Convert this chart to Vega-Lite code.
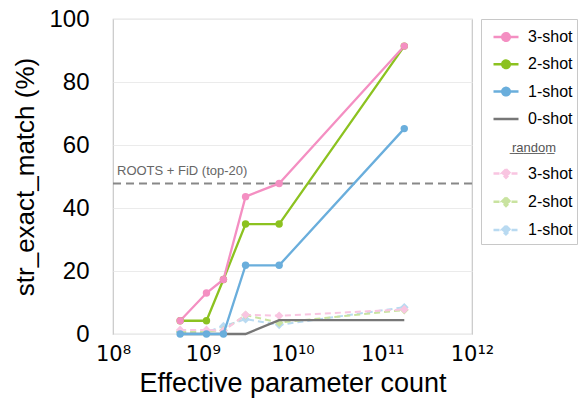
{
  "$schema": "https://vega.github.io/schema/vega-lite/v6.json",
  "autosize": {"type": "none"},
  "padding": {"left": 113, "top": 19, "right": 109, "bottom": 75},
  "width": 359,
  "height": 315,
  "background": "white",
  "config": {
    "font": "Liberation Sans",
    "view": {"stroke": "#c8c8c8", "strokeWidth": 1.2},
    "axis": {
      "domain": false,
      "ticks": false,
      "tickSize": 0,
      "gridColor": "#ebebeb",
      "gridWidth": 1,
      "labelFont": "Liberation Sans",
      "labelColor": "#000000",
      "titleFont": "Liberation Sans",
      "titleFontWeight": "normal",
      "titleColor": "#000000"
    }
  },
  "layer": [
    {
      "data": {"values": [{"v": 47.8, "name": "ROOTS + FiD (top-20)"}]},
      "mark": {"type": "rule", "color": "#888888", "strokeWidth": 2, "strokeDash": [8, 5]},
      "encoding": {
        "y": {"field": "v", "type": "quantitative", "scale": {"domain": [0, 100], "nice": false}, "title": "str_exact_match (%)"}
      }
    },
    {
      "data": {"values": [{"v": 47.8, "name": "ROOTS + FiD (top-20)"}]},
      "mark": {"type": "text", "align": "left", "baseline": "alphabetic", "dx": 4, "dy": -8, "fontSize": 13, "color": "#666666", "font": "Liberation Sans"},
      "encoding": {
        "x": {"datum": 100000000, "type": "quantitative", "scale": {"type": "log", "domain": [100000000, 1000000000000], "nice": false}, "title": "Effective parameter count"},
        "y": {"field": "v", "type": "quantitative", "title": "str_exact_match (%)"},
        "text": {"field": "name"}
      }
    },
    {
      "data": {
        "values": [
          {"x": 560000000, "y": 0.6, "s": "r1-shot"},
          {"x": 1100000000, "y": 0.6, "s": "r1-shot"},
          {"x": 1700000000, "y": 2.5, "s": "r1-shot"},
          {"x": 3000000000, "y": 4.7, "s": "r1-shot"},
          {"x": 7100000000, "y": 2.9, "s": "r1-shot"},
          {"x": 176000000000, "y": 8.5, "s": "r1-shot"},
          {"x": 560000000, "y": 0.7, "s": "r2-shot"},
          {"x": 1100000000, "y": 0.8, "s": "r2-shot"},
          {"x": 1700000000, "y": 1.2, "s": "r2-shot"},
          {"x": 3000000000, "y": 6.0, "s": "r2-shot"},
          {"x": 7100000000, "y": 3.6, "s": "r2-shot"},
          {"x": 176000000000, "y": 7.6, "s": "r2-shot"},
          {"x": 560000000, "y": 1.3, "s": "r3-shot"},
          {"x": 1100000000, "y": 1.3, "s": "r3-shot"},
          {"x": 1700000000, "y": 1.0, "s": "r3-shot"},
          {"x": 3000000000, "y": 6.1, "s": "r3-shot"},
          {"x": 7100000000, "y": 5.8, "s": "r3-shot"},
          {"x": 176000000000, "y": 7.8, "s": "r3-shot"},
          {"x": 560000000, "y": 0, "s": "0-shot"},
          {"x": 1100000000, "y": 0, "s": "0-shot"},
          {"x": 1700000000, "y": 0, "s": "0-shot"},
          {"x": 3000000000, "y": 0, "s": "0-shot"},
          {"x": 7100000000, "y": 4.4, "s": "0-shot"},
          {"x": 176000000000, "y": 4.4, "s": "0-shot"},
          {"x": 560000000, "y": 0, "s": "1-shot"},
          {"x": 1100000000, "y": 0, "s": "1-shot"},
          {"x": 1700000000, "y": 0, "s": "1-shot"},
          {"x": 3000000000, "y": 21.8, "s": "1-shot"},
          {"x": 7100000000, "y": 21.8, "s": "1-shot"},
          {"x": 176000000000, "y": 65.2, "s": "1-shot"},
          {"x": 560000000, "y": 4.2, "s": "2-shot"},
          {"x": 1100000000, "y": 4.2, "s": "2-shot"},
          {"x": 1700000000, "y": 17.3, "s": "2-shot"},
          {"x": 3000000000, "y": 34.9, "s": "2-shot"},
          {"x": 7100000000, "y": 34.9, "s": "2-shot"},
          {"x": 176000000000, "y": 91.4, "s": "2-shot"},
          {"x": 560000000, "y": 4.2, "s": "3-shot"},
          {"x": 1100000000, "y": 13.0, "s": "3-shot"},
          {"x": 1700000000, "y": 17.3, "s": "3-shot"},
          {"x": 3000000000, "y": 43.6, "s": "3-shot"},
          {"x": 7100000000, "y": 47.8, "s": "3-shot"},
          {"x": 176000000000, "y": 91.4, "s": "3-shot"}
        ]
      },
      "encoding": {
        "x": {
          "field": "x", "type": "quantitative",
          "scale": {"type": "log", "domain": [100000000, 1000000000000], "nice": false},
          "axis": {
            "values": [100000000, 1000000000, 10000000000, 100000000000, 1000000000000],
            "labelFont": "DejaVu Sans",
            "labelFontSize": 21,
            "labelPadding": 9,
            "labelFlush": false,
            "labelOverlap": false,
            "labelExpr": "'10' + (datum.value == 1e8 ? '⁸' : datum.value == 1e9 ? '⁹' : datum.value == 1e10 ? '¹⁰' : datum.value == 1e11 ? '¹¹' : '¹²')",
            "titleFontSize": 27,
            "titlePadding": 6
          },
          "title": "Effective parameter count"
        },
        "y": {
          "field": "y", "type": "quantitative",
          "scale": {"domain": [0, 100], "nice": false},
          "axis": {
            "values": [0, 20, 40, 60, 80, 100],
            "labelFontSize": 24,
            "labelPadding": 24,
            "titleFontSize": 26,
            "titlePadding": 10
          },
          "title": "str_exact_match (%)"
        },
        "color": {
          "field": "s", "type": "nominal",
          "scale": {
            "domain": ["3-shot", "2-shot", "1-shot", "0-shot", "random", "r3-shot", "r2-shot", "r1-shot"],
            "range": ["#f48fc2", "#8cc220", "#6aaedc", "#777777", "#ffffff", "#f9c5e1", "#c9e3a0", "#b9daf1"]
          },
          "legend": {
            "title": null,
            "orient": "right",
            "offset": 9,
            "padding": 4,
            "symbolOffset": 7,
            "strokeColor": "#c8c8c8",
            "fillColor": "white",
            "cornerRadius": 0,
            "symbolSize": 625,
            "symbolStrokeWidth": 2.5,
            "symbolOpacity": 1,
            "labelFontSize": 16,
            "labelFont": "Liberation Sans",
            "labelColor": "#000000",
            "labelOffset": 8,
            "rowPadding": 4.3,
            "labelExpr": "datum.value == 'random' ? 'r̲a̲n̲d̲o̲m̲' : (indexof(datum.value, 'r') == 0 ? substring(datum.value, 1) + '    ' : datum.value + '    ')",
            "encode": {
              "symbols": {
                "update": {
                  "shape": {"signal": "indexof(['r3-shot','r2-shot','r1-shot'], datum.value) >= 0 ? 'M-1,0H1M0,-0.34L0.34,0L0,0.34L-0.34,0Z' : (datum.value == '0-shot' || datum.value == 'random') ? 'M-1,0H1' : 'M-1,0H1M0.3,0A0.3,0.3 0 1 1 -0.3,0A0.3,0.3 0 1 1 0.3,0Z'"},
                  "fill": {"signal": "scale('color', datum.value)"},
                  "stroke": {"signal": "scale('color', datum.value)"},
                  "strokeWidth": {"value": 2.5},
                  "strokeDash": {"signal": "indexof(['r3-shot','r2-shot','r1-shot'], datum.value) >= 0 ? [6, 3] : [1, 0]"},
                  "opacity": {"signal": "datum.value == 'random' ? 0 : 1"}
                }
              },
              "labels": {
                "update": {
                  "fontSize": {"signal": "datum.value == 'random' ? 13 : 16"},
                  "fill": {"signal": "datum.value == 'random' ? '#555555' : '#000000'"},
                  "dx": {"signal": "datum.value == 'random' ? -16 : 0"},
                  "dy": {"signal": "datum.value == 'random' ? 3 : 0"}
                }
              }
            }
          }
        }
      },
      "layer": [
        {
          "transform": [{"filter": "indexof(datum.s, 'r') == 0"}],
          "mark": {"type": "line", "strokeWidth": 2, "strokeDash": [6, 4]}
        },
        {
          "transform": [{"filter": "indexof(datum.s, 'r') == 0"}],
          "mark": {"type": "point", "filled": true, "opacity": 1, "size": 75, "shape": "diamond"}
        },
        {
          "transform": [{"filter": "indexof(datum.s, 'r') != 0"}],
          "mark": {"type": "line", "strokeWidth": 2.3}
        },
        {
          "transform": [{"filter": "indexof(datum.s, 'r') != 0 && datum.s != '0-shot'"}],
          "mark": {"type": "point", "filled": true, "opacity": 1, "size": 55, "shape": "circle"}
        }
      ]
    }
  ]
}
